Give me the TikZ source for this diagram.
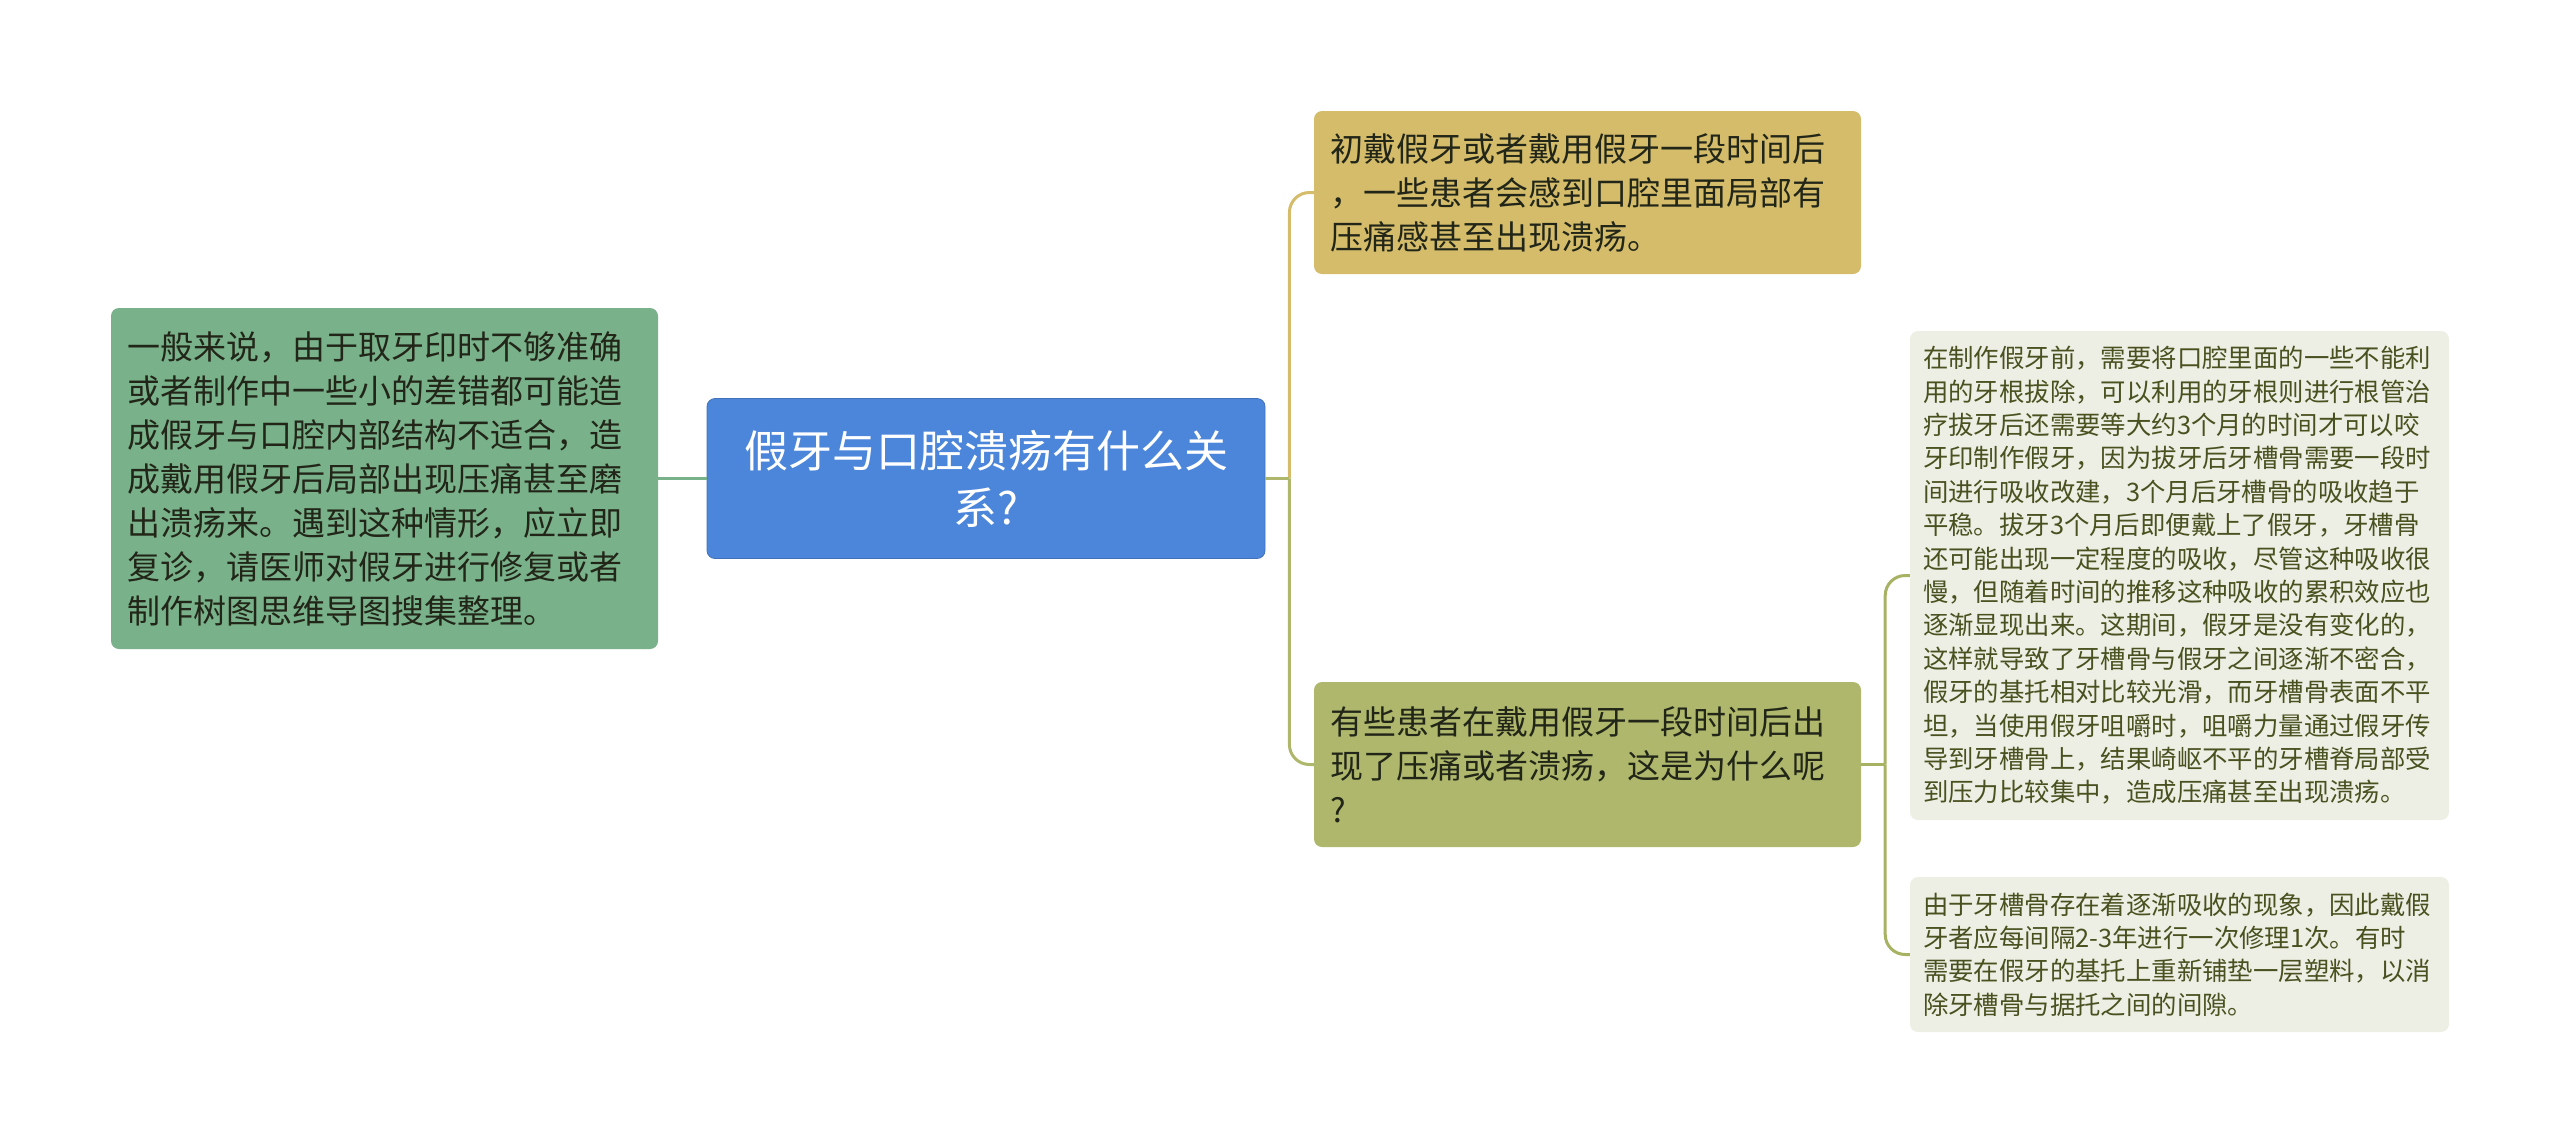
\documentclass[tikz,border=0pt]{standalone}
\usepackage{fontspec}
\setmainfont{Noto Sans CJK SC}
\usetikzlibrary{calc}
\definecolor{cblue}{HTML}{4C86DA}
\definecolor{cgreen}{HTML}{79B28A}
\definecolor{cgold}{HTML}{D4BC6B}
\definecolor{colive}{HTML}{AEB76B}
\definecolor{cpale}{HTML}{EEEFE4}
\definecolor{tdark}{HTML}{222618}
\definecolor{tolive}{HTML}{4A5120}
\definecolor{lolive}{HTML}{A7B262}
\tikzset{
  box/.style={rounded corners=8pt, inner sep=0pt, anchor=center},
  midtext/.style={font=\fontsize{33}{44}\selectfont, text=tdark, align=left},
  smalltext/.style={font=\fontsize{25.4}{33.4}\selectfont, text=tolive, align=left},
  link/.style={line width=3pt},
}
\begin{document}
\begin{tikzpicture}[x=1pt,y=-1pt]
\useasboundingbox (0,0) rectangle (2560,1144);
% central
\node[box, fill=cblue, draw=cblue!85!black, line width=0.8pt, minimum width=558pt, minimum height=160pt,
  text width=520pt, align=center, text=white, font=\fontsize{44}{57}\selectfont] (c) at (986,478.5)
  {假牙与口腔溃疡有什么关\\系?};
% left
\node[box, fill=cgreen, minimum width=547pt, minimum height=341pt, text width=515pt, midtext] (l) at (384.5,478.5)
  {一般来说，由于取牙印时不够准确\\或者制作中一些小的差错都可能造\\成假牙与口腔内部结构不适合，造\\成戴用假牙后局部出现压痛甚至磨\\出溃疡来。遇到这种情形，应立即\\复诊，请医师对假牙进行修复或者\\制作树图思维导图搜集整理。};
% top right
\node[box, fill=cgold, minimum width=547pt, minimum height=163pt, text width=515pt, midtext] (tr) at (1587.5,192.5)
  {初戴假牙或者戴用假牙一段时间后\\，一些患者会感到口腔里面局部有\\压痛感甚至出现溃疡。};
% mid right
\node[box, fill=colive, minimum width=547pt, minimum height=165pt, text width=515pt, midtext] (mr) at (1587.5,764.5)
  {有些患者在戴用假牙一段时间后出\\现了压痛或者溃疡，这是为什么呢\\?};
% far right 1
\node[box, fill=cpale, minimum width=539pt, minimum height=489pt, text width=513pt, smalltext] (f1) at (2179.5,575.5)
  {在制作假牙前，需要将口腔里面的一些不能利\\用的牙根拔除，可以利用的牙根则进行根管治\\疗拔牙后还需要等大约3个月的时间才可以咬\\牙印制作假牙，因为拔牙后牙槽骨需要一段时\\间进行吸收改建，3个月后牙槽骨的吸收趋于\\平稳。拔牙3个月后即便戴上了假牙，牙槽骨\\还可能出现一定程度的吸收，尽管这种吸收很\\慢，但随着时间的推移这种吸收的累积效应也\\逐渐显现出来。这期间，假牙是没有变化的，\\这样就导致了牙槽骨与假牙之间逐渐不密合，\\假牙的基托相对比较光滑，而牙槽骨表面不平\\坦，当使用假牙咀嚼时，咀嚼力量通过假牙传\\导到牙槽骨上，结果崎岖不平的牙槽脊局部受\\到压力比较集中，造成压痛甚至出现溃疡。};
% far right 2
\node[box, fill=cpale, minimum width=539pt, minimum height=155pt, text width=513pt, smalltext] (f2) at (2179.5,954.5)
  {由于牙槽骨存在着逐渐吸收的现象，因此戴假\\牙者应每间隔2-3年进行一次修理1次。有时\\需要在假牙的基托上重新铺垫一层塑料，以消\\除牙槽骨与据托之间的间隙。};
% connectors
\coordinate (j1) at ($(c.east)+(24,0)$);
\coordinate (j2) at ($(mr.east)+(24,0)$);
\draw[link, cgreen] (c.west) -- (l.east);
\draw[link, cgold, rounded corners=20pt] (j1) |- (tr.west);
\draw[link, colive, rounded corners=20pt] (j1) |- (mr.west);
\draw[link, colive] (c.east) -- (j1);
\draw[link, lolive] (mr.east) -- (j2);
\draw[link, lolive, rounded corners=20pt] (j2) |- (f1.west);
\draw[link, lolive, rounded corners=20pt] (j2) |- (f2.west);
\end{tikzpicture}
\end{document}
